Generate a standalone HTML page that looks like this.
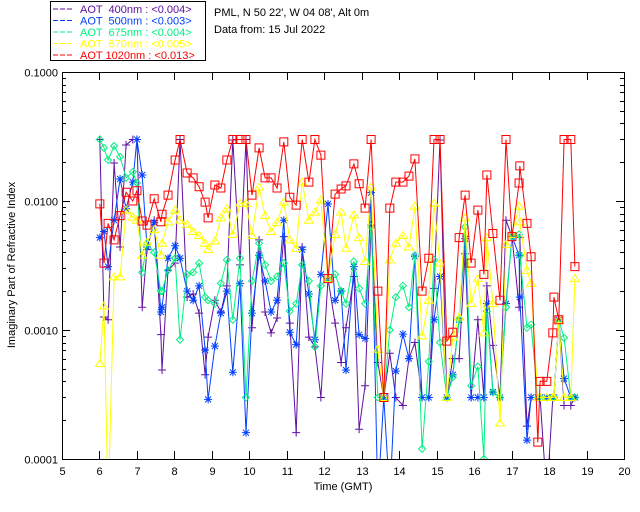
<!DOCTYPE html>
<html><head><meta charset="utf-8"><style>
body{margin:0;background:#fff;}
svg{display:block;font-family:"Liberation Sans",sans-serif;}
</style></head><body>
<svg id="chart" width="640" height="512" viewBox="0 0 640 512">
<defs><clipPath id="pc"><rect x="62" y="72" width="562" height="387"/></clipPath></defs>
<rect width="640" height="512" fill="#fff"/>
<g id="axes"></g>
<g id="series" clip-path="url(#pc)"></g>
<rect x="50.5" y="1.5" width="155" height="59" fill="none" stroke="#000"/>
<g id="legend" font-size="11"></g>
<text x="214" y="16" font-size="11">PML, N 50 22', W 04 08', Alt 0m</text>
<text x="214" y="33" font-size="11">Data from: 15 Jul 2022</text>
<text x="343" y="490" font-size="11" text-anchor="middle">Time (GMT)</text>
<text transform="translate(15,265) rotate(-90)" font-size="11" text-anchor="middle">Imaginary Part of Refractive Index</text>
</svg>
<script>
const times=[6.01,6.12,6.23,6.39,6.55,6.71,6.89,7.00,7.14,7.27,7.46,7.64,7.67,7.83,8.02,8.15,8.34,8.50,8.66,8.82,8.90,9.08,9.24,9.40,9.56,9.75,9.91,10.07,10.26,10.42,
10.58,10.74,10.92,11.08,11.25,11.41,11.59,11.75,11.91,12.10,12.29,12.45,12.58,12.79,12.93,13.09,13.25,13.43,13.59,13.75,13.91,14.10,14.26,14.42,14.61,14.79,14.93,15.09,15.27,15.43,15.60,15.76,15.92,16.10,16.26,16.34,16.50,16.69,16.85,17.01,17.20,17.22,17.41,17.52,17.70,17.76,17.94,18.10,18.13,18.26,18.40,18.58,18.69];
const aot1020=[0.0095,0.0033,0.0067,0.0050,0.0077,0.0117,0.0100,0.012,0.0070,0.0065,0.0104,0.0069,0.0079,0.0111,0.0208,0.03,0.0165,0.0151,0.0129,0.0098,0.0074,0.0133,0.0126,0.0208,0.03,0.03,0.03,0.0111,0.0258,0.0151,
0.0151,0.0126,0.0287,0.0107,0.0093,0.03,0.0140,0.03,0.0227,0.0025,0.0113,0.0124,0.0131,0.0194,0.0136,0.0088,0.03,0.0020,0.0003,0.0088,0.0140,0.0140,0.0156,0.0212,0.0020,0.0036,0.03,0.03,0.00082,0.00096,0.0052,0.0111,0.0033,0.0085,0.0027,0.0159,0.0056,0.0017,0.03,0.0053,0.0138,0.0187,0.0067,0.0037,0.000135,0.0004,0.0004,0.00095,0.0018,0.0012,0.03,0.03,0.0031];
const aot870=[0.00055,0.00153,0.00004,0.00258,0.00258,0.0085,0.0075,0.0071,0.0038,0.0048,0.0060,0.0038,0.0047,0.0069,0.0085,0.0071,0.0066,0.0058,0.0054,0.0047,0.0042,0.0049,0.0074,0.0087,0.0055,0.0096,0.0096,0.0054,0.0128,0.0077,
0.0058,0.0068,0.0098,0.0050,0.0043,0.014,0.0071,0.0082,0.0102,0.0025,0.0055,0.0082,0.0043,0.0078,0.0052,0.0034,0.0128,0.00071,0.0003,0.0035,0.0047,0.0054,0.0044,0.0091,0.0009,0.0017,0.0096,0.0033,0.0003,0.00088,0.00126,0.0074,0.0016,0.0025,0.00095,0.0052,0.0016,0.00019,0.0046,0.0055,0.0091,0.0069,0.0029,0.0023,0.0003,0.0003,0.0003,0.0003,0.0003,0.0012,0.0003,0.0003,0.0025];
const aot675=[0.03,0.0258,0.0208,0.0267,0.022,0.0151,0.0168,0.0138,0.0028,0.0047,0.0040,0.0020,0.0020,0.0029,0.0036,0.00084,0.0027,0.0028,0.0033,0.0018,0.0017,0.0016,0.0023,0.0035,0.0012,0.0036,0.0003,0.0024,0.0047,0.0032,
0.0024,0.0026,0.0033,0.0014,0.0016,0.0032,0.0024,0.00074,0.0022,0.0025,0.0027,0.0020,0.0016,0.0034,0.0021,0.0016,0.0063,0.0003,0.0003,0.0010,0.0018,0.0022,0.0015,0.0038,0.00012,0.00057,0.0035,0.0008,0.0003,0.00043,0.0012,0.0063,0.00037,0.00052,0.0001,0.0014,0.00033,0.0003,0.0015,0.0053,0.0055,0.0038,0.00104,0.0011,0.0003,0.0003,0.0003,0.0003,0.0003,0.0012,0.00087,0.0003,0.0003];
const aot500=[0.0052,0.0058,0.0031,0.0071,0.0148,0.0087,0.014,0.03,0.0159,0.0044,0.0068,0.00138,0.0015,0.0036,0.0045,0.0036,0.0020,0.0017,0.0022,0.0007,0.00029,0.00075,0.00135,0.0020,0.00047,0.0023,0.00016,0.00135,0.0038,0.0024,
0.00138,0.0017,0.0071,0.00096,0.00077,0.0042,0.0019,0.00084,0.0027,0.0095,0.0017,0.0020,0.00049,0.0031,0.00092,0.00086,0.0116,0.00005,0.0003,0.00005,0.00048,0.00093,0.0006,0.0037,0.0003,0.0003,0.0012,0.0026,0.0003,0.00045,0.0012,0.0051,0.0003,0.0003,0.0003,0.0016,0.00033,0.0003,0.0016,0.0053,0.0038,0.0018,0.00014,0.0003,0.0003,0.0003,0.0003,0.0003,0.0003,0.0012,0.00042,0.0003,0.0003];
const aot400=[0.03,0.00126,0.0012,0.0197,0.0044,0.0272,0.03,0.03,0.0015,0.0042,0.0071,0.00092,0.00049,0.0029,0.0033,0.03,0.0018,0.0019,0.00135,0.00045,0.00088,0.0017,0.00138,0.0022,0.0297,0.0032,0.03,0.00104,0.0050,0.00138,
0.00095,0.00124,0.0053,0.00113,0.00016,0.0044,0.00088,0.00074,0.0003,0.0025,0.00113,0.00056,0.00104,0.0026,0.00017,0.00037,0.0065,0.00056,0.0003,0.00066,0.0003,0.00026,0.0006,0.0008,0.0003,0.0003,0.0021,0.0297,0.0003,0.0006,0.0006,0.0039,0.0003,0.0012,0.0003,0.0022,0.00076,0.0003,0.0071,0.0053,0.0015,0.0052,0.00018,0.0003,0.0003,0.0003,0.00005,0.0003,0.0003,0.0012,0.00026,0.00026,0.0003];
const xTicks=[5,6,7,8,9,10,11,12,13,14,15,16,17,18,19,20];
const yTicks=[0.1,0.01,0.001,0.0001];
const yTickLabels=["0.1000","0.0100","0.0010","0.0001"];
const legendLabels=["AOT  400nm : <0.004>","AOT  500nm : <0.003>","AOT  675nm : <0.004>","AOT  870nm : <0.005>","AOT 1020nm : <0.013>"];

const NS="http://www.w3.org/2000/svg";
const L=62,R=624,T=72,B=459;
function xs(t){return L+(t-5)/15*(R-L);}
function ys(v){return T+(-1-Math.log10(v))/3*(B-T);}
function mk(tag,attrs,parent){const e=document.createElementNS(NS,tag);for(const k in attrs)e.setAttribute(k,attrs[k]);parent.appendChild(e);return e;}
const ax=document.getElementById('axes');
const frame=mk('rect',{x:L+.5,y:T+.5,width:R-L,height:B-T,fill:'none',stroke:'#000'},ax);


xTicks.forEach(t=>{const x=Math.round(xs(t))+.5;
 const tk=mk('path',{d:`M${x} ${B}v-8M${x} ${T}v8`,stroke:'#000'},ax);
 
 
 const lb=mk('text',{x:x,y:B+16,'font-size':11,'text-anchor':'middle'},ax);lb.textContent=t;
 
 
});
yTicks.forEach((v,i)=>{const y=Math.round(ys(v))+.5;
 const tk=mk('path',{d:`M${L} ${y}h8M${R} ${y}h-8`,stroke:'#000'},ax);
 
 
 const lb=mk('text',{x:L-4,y:y+4,'font-size':11,'text-anchor':'end'},ax);lb.textContent=yTickLabels[i];
 
 
 if(i<3)for(let m=2;m<10;m++){const yy=Math.round(ys(v/10*m))+.5;
  const mt=mk('path',{d:`M${L} ${yy}h4M${R} ${yy}h-4`,stroke:'#000'},ax);
  
  }
});
const sg=document.getElementById('series');
const defs=[{d:aot400,c:'#6010a0',m:'plus',n:'aot-400nm'},{d:aot500,c:'#0040ff',m:'star',n:'aot-500nm'},{d:aot675,c:'#00f080',m:'diamond',n:'aot-675nm'},{d:aot870,c:'#ffff00',m:'tri',n:'aot-870nm'},{d:aot1020,c:'#ff0000',m:'square',n:'aot-1020nm'}];
function marker(g,m,x,y,c){let p;
 if(m==='plus')p=`M${x-4} ${y}h8M${x} ${y-4}v8`;
 else if(m==='star')p=`M${x-4} ${y}h8M${x} ${y-4}v8M${x-3} ${y-3}l6 6M${x-3} ${y+3}l6 -6`;
 else if(m==='diamond')p=`M${x} ${y-3.5}l3.5 3.5l-3.5 3.5l-3.5 -3.5z`;
 else if(m==='tri')p=`M${x} ${y-4}l4.5 7h-9z`;
 else p=`M${x-4} ${y-4}h8v8h-8z`;
 const e=mk('path',{d:p,stroke:c,fill:'none','stroke-width':1},g);
 
 }
defs.forEach(s=>{const g=mk('g',{},sg);
 
 
 const pts=times.map((t,i)=>[xs(t),ys(s.d[i])]);
 const ln=mk('polyline',{points:pts.map(p=>p.map(v=>v.toFixed(1)).join(',')).join(' '),fill:'none',stroke:s.c,'stroke-width':1},g);
 
 
 pts.forEach(p=>{if(p[1]<=B+6)marker(g,s.m,p[0],p[1],s.c);});
});
const lg=document.getElementById('legend');
defs.forEach((s,i)=>{const y=9+i*11.5;
 const l=mk('path',{d:`M53 ${y}h20`,stroke:s.c,'stroke-dasharray':'5 2'},lg);
 
 
 const t=mk('text',{x:80,y:y+4,fill:s.c,'font-size':11},lg);t.textContent=legendLabels[i];
 t.style.whiteSpace='pre';
 
 
});
</script>
</body></html>
